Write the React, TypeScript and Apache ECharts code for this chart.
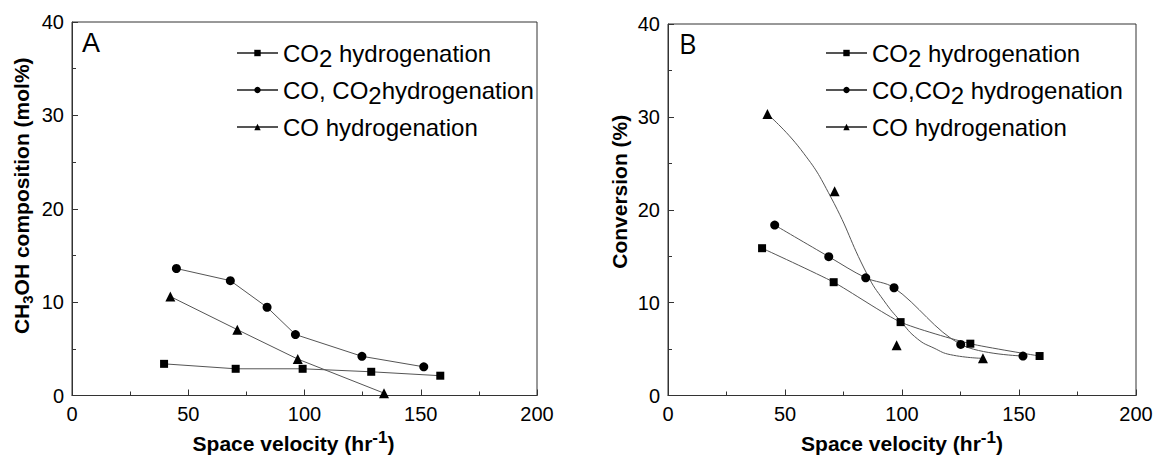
import React, { useEffect, useRef } from "react";
import * as echarts from "echarts";

// Panel A: CH3OH composition (mol%) vs space velocity
const aCO2: number[][] = [[39.6, 3.39], [70.4, 2.86], [99.2, 2.86], [128.7, 2.54], [158.4, 2.12]];
const aMix: number[][] = [[44.9, 13.6], [68.1, 12.3], [83.9, 9.45], [96.1, 6.53], [124.7, 4.2], [151.3, 3.07]];
const aCO: number[][] = [[42.3, 10.6], [71.1, 7.05], [97.1, 3.9], [134.2, 0.25]];

// Panel B: Conversion (%) vs space velocity
const bCO2: number[][] = [[40.2, 15.86], [70.8, 12.2], [99.4, 7.9], [129.2, 5.58], [158.8, 4.25]];
const bMix: number[][] = [[45.6, 18.35], [68.7, 14.95], [84.5, 12.67], [96.6, 11.6], [125.1, 5.5], [151.7, 4.25]];
const bCO: number[][] = [[42.5, 30.3], [71.2, 22.0], [97.7, 5.4], [134.6, 4.0]];
const bCOFit: number[][] = [[42.5, 30.3], [56.7, 26.5], [69.5, 21.4], [85.2, 13.0], [92.3, 10.2], [99.4, 8.0], [106.6, 6.1], [113.7, 5.1], [120.8, 4.39], [134.6, 4.0]];

const nameCO2 = "CO2 hydrogenation";
const nameMixA = "CO, CO2hydrogenation";
const nameMixB = "CO,CO2 hydrogenation";
const nameCO = "CO hydrogenation";

const legendRich: Record<string, string> = {
  [nameCO2]: "{n|CO}{s|2}{n| hydrogenation}",
  [nameMixA]: "{n|CO, CO}{s|2}{n|hydrogenation}",
  [nameMixB]: "{n|CO,CO}{s|2}{n| hydrogenation}",
  [nameCO]: "{n|CO hydrogenation}",
};

const FONT = "Liberation Sans, Arial, sans-serif";
const AXIS = "#333";
const LINE = "#555";

function xAxis(gi: number) {
  return {
    type: "value",
    gridIndex: gi,
    min: 0,
    max: 200,
    interval: 50,
    axisLine: { show: true, lineStyle: { color: AXIS, width: 1 } },
    axisTick: { show: true, inside: true, length: 6, lineStyle: { color: AXIS } },
    minorTick: { show: true, splitNumber: 2, length: 4, lineStyle: { color: AXIS } },
    splitLine: { show: false },
    minorSplitLine: { show: false },
    axisLabel: { color: "#000", fontSize: 20, fontFamily: FONT, margin: 8 },
    name: "{b|Space velocity (hr}{sup|-1}{b|)}",
    nameLocation: "middle",
    nameGap: 33,
    nameTextStyle: {
      padding: gi === 0 ? [0, 22, 0, 0] : [0, 0, 0, 0],
      rich: {
        b: { fontSize: 21, fontWeight: "bold", fontFamily: FONT, color: "#000", lineHeight: 30, verticalAlign: "middle" },
        sup: { fontSize: 17, fontWeight: "bold", fontFamily: FONT, color: "#000", lineHeight: 18, verticalAlign: "top" },
      },
    },
  };
}

function yAxis(gi: number) {
  return {
    type: "value",
    gridIndex: gi,
    min: 0,
    max: 40,
    interval: 10,
    axisLine: { show: true, lineStyle: { color: AXIS, width: 1 } },
    axisTick: { show: true, inside: true, length: 6, lineStyle: { color: AXIS } },
    minorTick: { show: true, splitNumber: 2, length: 4, lineStyle: { color: AXIS } },
    splitLine: { show: false },
    minorSplitLine: { show: false },
    axisLabel: { color: "#000", fontSize: 20, fontFamily: FONT, margin: 8 },
    name: gi === 0 ? "{b|CH}{s|3}{b|OH composition (mol%)}" : "{b|Conversion (%)}",
    nameLocation: "middle",
    nameGap: gi === 0 ? 37 : 35,
    nameTextStyle: {
      padding: gi === 0 ? [0, 0, 0, 26] : [0, 0, 0, 36],
      rich: {
        b: { fontSize: 21, fontWeight: "bold", fontFamily: FONT, color: "#000", lineHeight: 28, verticalAlign: "middle" },
        s: { fontSize: 15, fontWeight: "bold", fontFamily: FONT, color: "#000", lineHeight: 15, verticalAlign: "bottom" },
      },
    },
  };
}

function lineSeries(name: string, data: number[][], gi: number, symbol: string, size: number, smooth: number | boolean) {
  return {
    type: "line",
    name,
    data,
    xAxisIndex: gi,
    yAxisIndex: gi,
    symbol,
    symbolSize: size,
    showSymbol: true,
    smooth,
    lineStyle: { color: LINE, width: 1 },
    itemStyle: { color: "#000", opacity: 1 },
    z: 3,
  };
}

function legend(left: number, names: string[]) {
  return {
    orient: "vertical",
    left,
    top: 36,
    itemWidth: 41,
    itemHeight: 8,
    itemGap: 8,
    selectedMode: false,
    data: names,
    formatter: (n: string) => legendRich[n] || n,
    textStyle: {
      rich: {
        n: { fontSize: 24, fontFamily: FONT, color: "#000", lineHeight: 34, verticalAlign: "middle" },
        s: { fontSize: 24, fontFamily: FONT, color: "#000", lineHeight: 24, verticalAlign: "bottom" },
      },
    },
  };
}

export default function App() {
  const ref = useRef<HTMLDivElement>(null);

  useEffect(() => {
    document.body.style.margin = "0";
    if (!ref.current) return;
    const chart = echarts.init(ref.current, undefined, { renderer: "svg" });
    chart.setOption({
      animation: false,
      backgroundColor: "#fff",
      grid: [
        { left: 72, top: 22, width: 465, height: 378, show: true, borderColor: AXIS, borderWidth: 1, backgroundColor: "transparent" },
        { left: 668, top: 24, width: 468, height: 380, show: true, borderColor: AXIS, borderWidth: 1, backgroundColor: "transparent" },
      ],
      xAxis: [xAxis(0), xAxis(1)],
      yAxis: [yAxis(0), yAxis(1)],
      legend: [
        legend(231, [nameCO2, nameMixA, nameCO]),
        legend(820, [nameCO2, nameMixB, nameCO]),
      ],
      graphic: [
        { type: "text", left: 82, top: 29, style: { text: "A", fontSize: 27, fontFamily: FONT, fill: "#000" } },
        { type: "text", left: 679, top: 30, style: { text: "B", fontSize: 27, fontFamily: "Open Sans, sans-serif", fill: "#000" } },
      ],
      series: [
        lineSeries(nameCO2, aCO2, 0, "rect", 8, false),
        lineSeries(nameMixA, aMix, 0, "circle", 9, false),
        lineSeries(nameCO, aCO, 0, "triangle", 10, false),
        lineSeries(nameCO2, bCO2, 1, "rect", 8, 0.2),
        lineSeries(nameMixB, bMix, 1, "circle", 9, 0.35),
        {
          ...lineSeries(nameCO, bCOFit, 1, "triangle", 10, 0.5),
          showSymbol: false,
        },
        {
          type: "scatter",
          name: "CO hydrogenation points",
          data: bCO,
          xAxisIndex: 1,
          yAxisIndex: 1,
          symbol: "triangle",
          symbolSize: 10,
          itemStyle: { color: "#000", opacity: 1 },
          z: 4,
        },
      ],
    });
    return () => chart.dispose();
  }, []);

  return <div ref={ref} style={{ width: 1158, height: 459 }} />;
}
